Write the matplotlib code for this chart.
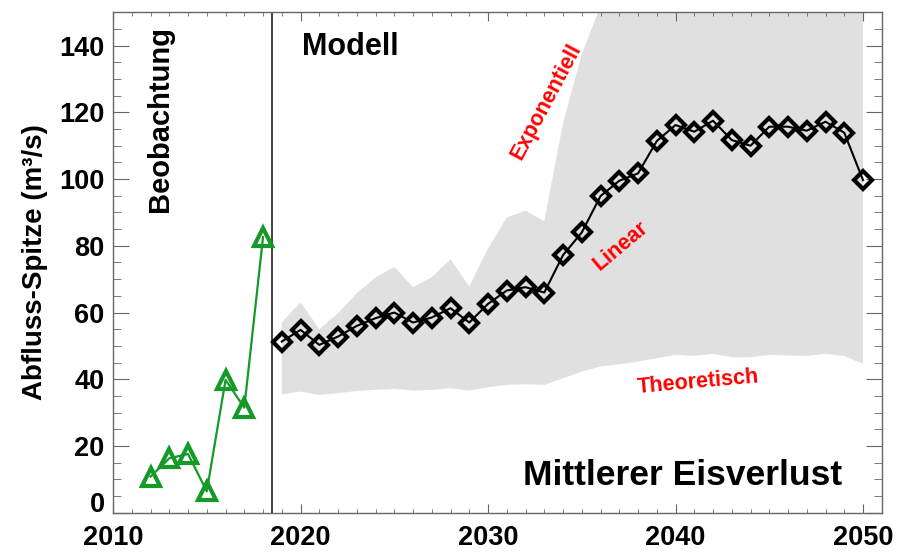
import matplotlib
matplotlib.use("Agg")
import matplotlib.pyplot as plt
from matplotlib.ticker import MultipleLocator
from matplotlib.transforms import ScaledTranslation

plt.rcParams["font.family"] = ["Liberation Sans", "DejaVu Sans"]
plt.rcParams["font.weight"] = "bold"

# Beobachtung (observations)
obs_years = [2012, 2013, 2014, 2015, 2016, 2017, 2018]
obs_peak = [10.8, 16.3, 17.6, 6.4, 39.8, 31.5, 82.6]

# Modell (mean ice loss)
mod_years = list(range(2019, 2051))
mod_peak = [51.3, 54.8, 50.3, 52.8, 56.0, 58.3, 60.0, 57.0, 58.5, 61.3,
            57.0, 62.6, 66.6, 67.6, 66.0, 77.2, 84.0, 94.9, 99.5, 101.7,
            111.4, 116.2, 114.2, 117.5, 111.7, 110.0, 115.7, 115.7, 114.5, 117.2,
            113.9, 99.7]

# range between "Theoretisch" (lower) and "Exponentiell" (upper)
band_low = [35.5, 36.3, 35.3, 35.8, 36.5, 36.8, 37.1, 36.6, 36.8, 37.3,
            36.6, 37.6, 38.3, 38.5, 38.3, 40.3, 42.3, 43.8, 44.5, 45.3,
            46.3, 47.3, 47.0, 47.6, 46.6, 46.6, 47.3, 47.1, 47.0, 47.6,
            47.0, 44.6]
band_high = [57.0, 63.1, 55.0, 59.8, 65.8, 70.5, 73.7, 67.6, 70.6, 76.0,
             67.8, 79.2, 88.5, 90.5, 87.4, 116.8, 137.5, 152, 168, 185,
             200, 215, 230, 245, 260, 275, 290, 305, 320, 335,
             350, 365]

fig = plt.figure(figsize=(9.08, 5.53), dpi=100)
ax = fig.add_axes([0.1245, 0.0729, 0.8466, 0.9049])

ax.fill_between(mod_years, band_low, band_high, color="#e0e0e0", lw=0, zorder=1)
ax.axvline(2018.5, color="#222222", lw=1.2, zorder=2)

ax.plot(obs_years, obs_peak, color="#159a2a", lw=1.6, marker="^", ms=13.5,
        mfc="none", mec="#159a2a", mew=3, zorder=3)
ax.plot(mod_years, mod_peak, color="black", lw=1.5, marker="D", ms=9,
        mfc="none", mec="black", mew=3, zorder=3)

ax.set_xlim(2010, 2051)
ax.set_ylim(0, 150)
ax.xaxis.set_major_locator(MultipleLocator(10))
ax.xaxis.set_minor_locator(MultipleLocator(1))
ax.yaxis.set_major_locator(MultipleLocator(20))
ax.yaxis.set_minor_locator(MultipleLocator(5))
ax.set_yticks(range(0, 141, 20))

for s in ax.spines.values():
    s.set_color("#666666")
    s.set_linewidth(1.0)

ax.tick_params(axis="both", which="both", direction="in", top=True, right=True,
               color="#666666")
ax.tick_params(axis="x", which="major", length=6.5, pad=9, labelsize=19.5)
ax.tick_params(axis="x", which="minor", length=3.2)
ax.tick_params(axis="y", which="major", length=11.5, pad=6, labelsize=19.5)
ax.tick_params(axis="y", which="minor", length=5.8)
for lab in ax.get_xticklabels() + ax.get_yticklabels():
    lab.set_fontweight("bold")

# lift the "0" label a little, as in the original, so it clears "2010"
zero_lab = ax.yaxis.get_major_ticks()[0].label1
zero_lab.set_transform(zero_lab.get_transform()
                       + ScaledTranslation(0, 8 / 72, fig.dpi_scale_trans))

ax.set_ylabel("Abfluss-Spitze (m\u00b3/s)", fontsize=20, fontweight="bold", labelpad=8)

ax.text(2020.1, 139.5, "Modell", fontsize=22, fontweight="bold", ha="left", va="center")
ax.text(2012.5, 118, "Beobachtung", fontsize=21, fontweight="bold", rotation=90,
        ha="center", va="center")
ax.text(2048.9, 11.2, "Mittlerer Eisverlust", fontsize=25.5, fontweight="bold",
        ha="right", va="center")

ax.text(2033.1, 123.2, "Exponentiell", color="red", fontsize=15.5, fontweight="bold",
        rotation=62, ha="center", va="center", rotation_mode="anchor")
ax.text(2037.1, 80.0, "Linear", color="red", fontsize=15.5, fontweight="bold",
        rotation=40, ha="center", va="center", rotation_mode="anchor")
ax.text(2041.2, 39.0, "Theoretisch", color="red", fontsize=15.5, fontweight="bold",
        rotation=5, ha="center", va="center", rotation_mode="anchor")

fig.savefig("out.png", dpi=100)
